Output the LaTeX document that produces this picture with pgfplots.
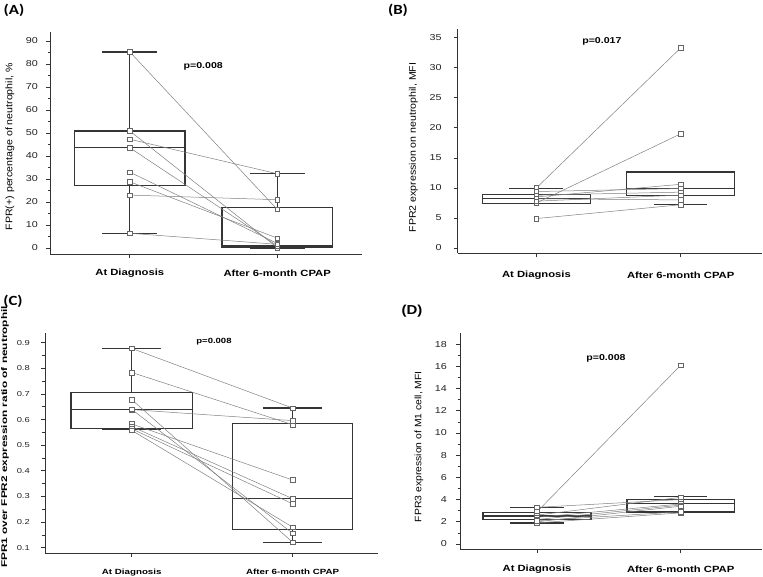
\documentclass[border=0pt]{standalone}
\usepackage{fontspec}
\setmainfont{Liberation Sans}
\newfontfamily\lab{Carlito}
\usepackage{graphicx}
\usepackage{pgfplots}
\pgfplotsset{compat=1.18}
\usepgfplotslibrary{statistics}
\definecolor{axc}{HTML}{333333}
\definecolor{boxc}{HTML}{353535}
\definecolor{linec}{HTML}{808080}
\definecolor{markc}{HTML}{666666}
\definecolor{tickc}{HTML}{222222}

\newcommand{\hs}[1]{\scalebox{1.25}[1]{#1}}

\pgfplotsset{
  panel/.style={
    scale only axis, anchor=south west, clip=false,
    axis x line*=bottom, axis y line*=left,
    axis line style={axc, line width=0.9pt},
    xtick={0,1}, tick align=outside,
    major tick length=4pt, minor tick length=2.5pt,
    tick style={axc, line width=0.7pt},
    minor y tick num=1,
    /pgf/number format/assume math mode=true,
    xticklabel style={anchor=center, text=black},
    yticklabel style={anchor=east, inner sep=0pt, text=tickc},
    boxplot/draw direction=y,
  },
  bx/.style={boxc, line width=1.4pt, solid, mark=none, boxplot prepared={#1}},
  pr/.style={linec, line width=0.5pt, mark=square*, mark size=2.3pt,
    mark options={fill=white, draw=markc, line width=0.55pt, solid}},
}

\begin{document}
\begin{tikzpicture}[x=1pt,y=1pt]
\path[use as bounding box] (0,0) rectangle (763,577);

% ---------------- (A) ----------------
\begin{axis}[panel, at={(50pt,323pt)}, width=311.7pt, height=221.7pt,
  xmin=-0.541, xmax=1.573, ymin=-2.61, ymax=93.8,
  ytick={0,10,...,90},
  yticklabel={\hs{\pgfmathprintnumber{\tick}}},
  yticklabel style={font=\fontsize{8.6}{10}\selectfont, xshift=-8pt},
  xticklabels={\hs{\textbf{At Diagnosis}}, \hs{\textbf{After 6-month CPAP}}},
  xticklabel style={font=\fontsize{9}{10}\selectfont, yshift=-15pt},
]
\addplot[bx={draw position=0, box extend=0.747, whisker extend=0.373,
  lower whisker=6.4, lower quartile=27.3, median=43.6, upper quartile=50.9, upper whisker=85.3}] coordinates {};
\addplot[bx={draw position=1, box extend=0.747, whisker extend=0.373,
  lower whisker=0.0, lower quartile=0.5, median=1.2, upper quartile=17.7, upper whisker=32.3}] coordinates {};
\addplot[pr] coordinates {(0,85.3) (1,16.8)};
\addplot[pr] coordinates {(0,50.9) (1,0.2)};
\addplot[pr] coordinates {(0,47.3) (1,32.3)};
\addplot[pr] coordinates {(0,43.6) (1,1.0)};
\addplot[pr] coordinates {(0,33.0) (1,2.0)};
\addplot[pr] coordinates {(0,28.8) (1,4.3)};
\addplot[pr] coordinates {(0,23.0) (1,21.0)};
\addplot[pr] coordinates {(0,6.4) (1,1.6)};
\node[font=\fontsize{8.5}{10}\selectfont\bfseries] at (axis cs:0.498,79.1) {\hs{p=0.008}};
\end{axis}

% ---------------- (B) ----------------
\begin{axis}[panel, at={(457.7pt,323.7pt)}, width=304.3pt, height=224pt,
  xmin=-0.546, xmax=1.564, ymin=-0.88, ymax=36.4,
  ytick={0,5,...,35}, minor y tick num=0,
  yticklabel={\hs{\pgfmathprintnumber{\tick}}},
  yticklabel style={font=\fontsize{8.6}{10}\selectfont, xshift=-12pt},
  xticklabels={\hs{\textbf{At Diagnosis}}, \hs{\textbf{After 6-month CPAP}}},
  xticklabel style={font=\fontsize{9}{10}\selectfont, yshift=-18pt},
]
\addplot[bx={draw position=0, box extend=0.749, whisker extend=0.375,
  lower whisker=7.43, lower quartile=7.43, median=8.27, upper quartile=8.87, upper whisker=9.87}] coordinates {};
\addplot[bx={draw position=1, box extend=0.749, whisker extend=0.37,
  lower whisker=7.27, lower quartile=8.7, median=9.93, upper quartile=12.65, upper whisker=12.65}] coordinates {};
\addplot[pr] coordinates {(0,10.0) (1,33.3)};
\addplot[pr] coordinates {(0,7.5) (1,19.0)};
\addplot[pr] coordinates {(0,4.9) (1,7.2)};
\addplot[pr] coordinates {(0,8.5) (1,10.6)};
\addplot[pr] coordinates {(0,9.4) (1,9.9)};
\addplot[pr] coordinates {(0,8.8) (1,9.3)};
\addplot[pr] coordinates {(0,8.2) (1,8.0)};
\addplot[pr] coordinates {(0,7.8) (1,8.8)};
\node[font=\fontsize{8.5}{10}\selectfont\bfseries] at (axis cs:0.454,34.3) {\hs{p=0.017}};
\end{axis}

% ---------------- (C) ----------------
\begin{axis}[panel, at={(45pt,23.7pt)}, width=333.3pt, height=220pt,
  xmin=-0.539, xmax=1.532, ymin=0.078, ymax=0.937,
  ytick={0.1,0.2,...,0.91},
  yticklabel={\scalebox{1.3}[1]{\pgfmathprintnumber[fixed,fixed zerofill,precision=1]{\tick}}},
  yticklabel style={font=\fontsize{7.2}{8}\selectfont, xshift=-11pt},
  xticklabels={\scalebox{1.3}[1]{\textbf{At Diagnosis}}, \scalebox{1.3}[1]{\textbf{After 6-month CPAP}}},
  xticklabel style={font=\fontsize{7.5}{9}\selectfont, yshift=-15pt},
]
\addplot[bx={draw position=0, box extend=0.756, whisker extend=0.367,
  lower whisker=0.562, lower quartile=0.566, median=0.639, upper quartile=0.706, upper whisker=0.878}] coordinates {};
\addplot[bx={draw position=1, box extend=0.746, whisker extend=0.367,
  lower whisker=0.121, lower quartile=0.172, median=0.291, upper quartile=0.584, upper whisker=0.645}] coordinates {};
\addplot[pr] coordinates {(0,0.878) (1,0.645)};
\addplot[pr] coordinates {(0,0.784) (1,0.580)};
\addplot[pr] coordinates {(0,0.639) (1,0.596)};
\addplot[pr] coordinates {(0,0.678) (1,0.121)};
\addplot[pr] coordinates {(0,0.640) (1,0.156)};
\addplot[pr] coordinates {(0,0.583) (1,0.364)};
\addplot[pr] coordinates {(0,0.573) (1,0.291)};
\addplot[pr] coordinates {(0,0.564) (1,0.271)};
\addplot[pr] coordinates {(0,0.558) (1,0.180)};
\node[font=\fontsize{7.5}{9}\selectfont\bfseries] at (axis cs:0.511,0.903) {\scalebox{1.27}[1]{p=0.008}};
\end{axis}

% ---------------- (D) ----------------
\begin{axis}[panel, at={(460pt,27.7pt)}, width=302pt, height=216pt,
  xmin=-0.536, xmax=1.566, ymin=-0.48, ymax=18.98,
  ytick={0,2,...,18},
  yticklabel={\hs{\pgfmathprintnumber{\tick}}},
  yticklabel style={font=\fontsize{8.6}{10}\selectfont, xshift=-9pt},
  xticklabels={\hs{\textbf{At Diagnosis}}, \hs{\textbf{After 6-month CPAP}}},
  xticklabel style={font=\fontsize{9}{10}\selectfont, yshift=-15.7pt},
]
\addplot[bx={draw position=0, box extend=0.75, whisker extend=0.371,
  lower whisker=1.89, lower quartile=2.22, median=2.52, upper quartile=2.82, upper whisker=3.3}] coordinates {};
\addplot[bx={draw position=1, box extend=0.745, whisker extend=0.371,
  lower whisker=2.82, lower quartile=2.88, median=3.63, upper quartile=4.03, upper whisker=4.26}] coordinates {};
\addplot[pr] coordinates {(0,2.9) (1,16.1)};
\addplot[pr] coordinates {(0,3.3) (1,4.0)};
\addplot[pr] coordinates {(0,2.6) (1,4.2)};
\addplot[pr] coordinates {(0,2.4) (1,3.6)};
\addplot[pr] coordinates {(0,2.2) (1,3.5)};
\addplot[pr] coordinates {(0,2.0) (1,3.4)};
\addplot[pr] coordinates {(0,1.9) (1,2.8)};
\addplot[pr] coordinates {(0,2.1) (1,2.9)};
\node[font=\fontsize{8.5}{10}\selectfont\bfseries] at (axis cs:0.48,16.76) {\hs{p=0.008}};
\end{axis}

% y labels
\node[rotate=90, font=\fontsize{10.6}{12}\selectfont] at (10,430.3) {\scalebox{1}[0.9]{FPR(+) percentage of neutrophil, \%}};
\node[rotate=90, font=\fontsize{10.6}{12}\selectfont] at (413.3,429.5) {\scalebox{1}[0.9]{FPR2 expression on neutrophil, MFI}};
\node[rotate=90, font=\fontsize{11.8}{13}\selectfont\bfseries] at (5,140) {\scalebox{1}[0.7]{FPR1 over FPR2 expression ratio of neutrophil}};
\node[rotate=90, font=\fontsize{10.4}{12}\selectfont] at (419,130.3) {\scalebox{1}[0.9]{FPR3 expression of M1 cell, MFI}};

% panel letters
\node[font=\lab\bfseries\fontsize{14}{16}\selectfont] at (14,567) {\scalebox{1.2}[1]{(A)}};
\node[font=\lab\bfseries\fontsize{14}{16}\selectfont] at (398,567) {\scalebox{1.2}[1]{(B)}};
\node[font=\lab\bfseries\fontsize{14}{16}\selectfont] at (13,276) {\scalebox{1.2}[1]{(C)}};
\node[font=\bfseries\fontsize{13}{15}\selectfont] at (412,265.5) {\scalebox{1.15}[1]{(D)}};
\end{tikzpicture}
\end{document}
